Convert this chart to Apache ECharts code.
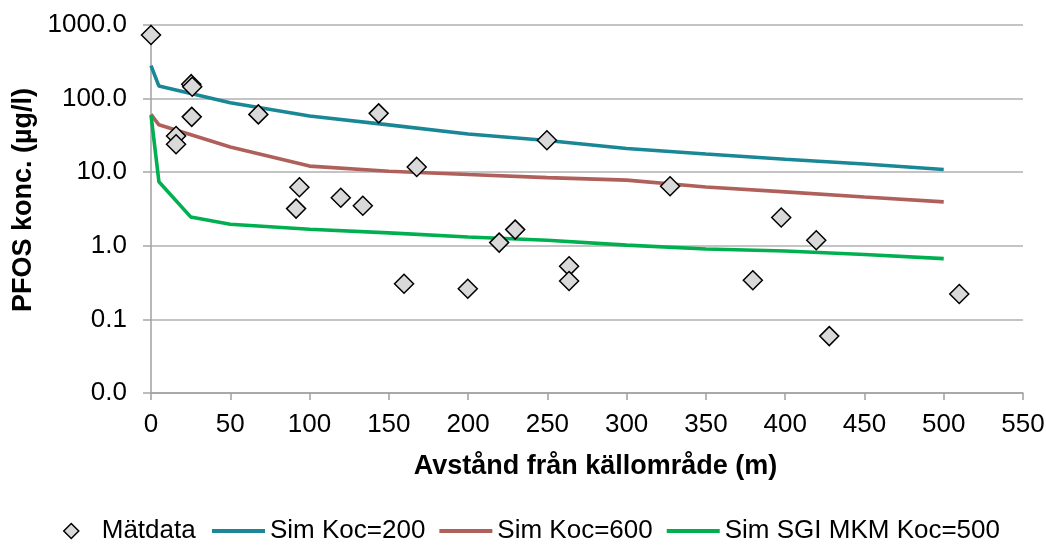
<!DOCTYPE html>
<html>
<head>
<meta charset="utf-8">
<script src="https://cdn.jsdelivr.net/npm/echarts@6/dist/echarts.min.js"></script>
<style>
html,body{margin:0;padding:0;background:#fff;}
#chart{width:1046px;height:545px;}
</style>
</head>
<body>
<div id="chart"></div>
<script>
// Measured data (Mätdata)
const measX = [0, 25.4, 26, 25.7, 15.8, 15.8, 67.7, 143.6, 167.6, 93.6, 91.5, 119.7, 133.6, 159.6, 249.7, 327.4, 219.6, 229.7, 263.7, 263.7, 199.8, 397.5, 419.6, 379.6, 427.8, 509.8];
const measY = [730, 157, 145, 56.5, 31, 24, 61, 63, 11.8, 6.25, 3.2, 4.5, 3.5, 0.305, 27.2, 6.45, 1.105, 1.66, 0.526, 0.332, 0.261, 2.42, 1.19, 0.34, 0.0593, 0.221];

// Simulations
const simX   = [0, 5, 50, 100, 150, 200, 250, 300, 350, 400, 450, 500];
const koc200 = [280, 148, 88, 58, 44, 33, 27, 21, 17.7, 15, 12.9, 10.9];
const koc600 = [61, 44, 22, 12.1, 10.3, 9.3, 8.45, 7.8, 6.3, 5.4, 4.6, 3.95];
const sgiX   = [0, 5, 25, 50, 100, 150, 200, 250, 300, 350, 400, 450, 500];
const sgi500 = [60, 7.4, 2.47, 1.96, 1.68, 1.5, 1.32, 1.19, 1.02, 0.905, 0.85, 0.76, 0.67];

const seriesNames = ['Mätdata', 'Sim Koc=200', 'Sim Koc=600', 'Sim SGI MKM Koc=500'];
const xTitle = 'Avstånd från källområde (m)';
const yTitle = 'PFOS konc. (µg/l)';

const zip = (xs, ys) => xs.map((x, i) => [x, ys[i]]);
const FONT = "'Liberation Sans', Arial, sans-serif";
const chart = echarts.init(document.getElementById('chart'), null, {renderer: 'canvas'});

chart.setOption({
  animation: false,
  backgroundColor: '#fff',
  textStyle: {fontFamily: FONT},
  grid: {left: 151, right: 23, top: 25, bottom: 152, containLabel: false, outerBoundsMode: 'none'},
  legend: [
    {
      data: [{name: seriesNames[0], icon: 'diamond'}],
      left: 63, top: 518, padding: 0,
      itemWidth: 15, itemHeight: 15,
      itemStyle: {color: '#d9d9d9', borderColor: '#000', borderWidth: 1.5},
      textStyle: {fontSize: 26, color: '#000', fontFamily: FONT, padding: [0, 0, 0, 18]}
    },
    {
      data: seriesNames.slice(1).map(n => ({name: n, icon: 'rect'})),
      left: 212, top: 518, padding: 0,
      itemWidth: 53, itemHeight: 4, itemGap: 14,
      textStyle: {fontSize: 26, color: '#000', fontFamily: FONT}
    }
  ],
  xAxis: {
    type: 'value', min: 0, max: 550, interval: 50,
    name: xTitle, nameLocation: 'middle', nameGap: 60,
    nameTextStyle: {fontSize: 27, fontWeight: 'bold', color: '#000', fontFamily: FONT, padding: [0, 0, 0, 17]},
    axisLine: {show: true, lineStyle: {color: '#a0a0a0', width: 1.5}},
    axisTick: {show: true, inside: false, length: 7, lineStyle: {color: '#a0a0a0', width: 1.5}},
    axisLabel: {fontSize: 26, color: '#000', margin: 19, fontFamily: FONT},
    splitLine: {show: false}
  },
  yAxis: {
    type: 'log', logBase: 10, min: 0.01, max: 1000, splitNumber: 5,
    name: yTitle, nameLocation: 'middle', nameGap: 113, nameRotate: 90,
    nameTextStyle: {fontSize: 27, fontWeight: 'bold', color: '#000', fontFamily: FONT, padding: [0, 0, 0, 18]},
    axisLine: {show: true, lineStyle: {color: '#a0a0a0', width: 1.5}},
    axisTick: {show: true, inside: false, length: 8, lineStyle: {color: '#a6a6a6', width: 1.5}},
    axisLabel: {fontSize: 26, color: '#000', margin: 24, fontFamily: FONT, padding: [4, 0, 0, 0],
      formatter: v => Number(v).toFixed(1)},
    splitLine: {show: true, lineStyle: {color: '#b0b0b0', width: 1.5}}
  },
  series: [
    {
      name: seriesNames[1], type: 'line', data: zip(simX, koc200),
      symbol: 'none', smooth: false,
      lineStyle: {color: '#1a8796', width: 3.6}, itemStyle: {color: '#1a8796'}, z: 2
    },
    {
      name: seriesNames[2], type: 'line', data: zip(simX, koc600),
      symbol: 'none', smooth: false,
      lineStyle: {color: '#b0605a', width: 3.6}, itemStyle: {color: '#b0605a'}, z: 2
    },
    {
      name: seriesNames[3], type: 'line', data: zip(sgiX, sgi500),
      symbol: 'none', smooth: false,
      lineStyle: {color: '#00b050', width: 3.6}, itemStyle: {color: '#00b050'}, z: 2
    },
    {
      name: seriesNames[0], type: 'scatter', data: zip(measX, measY),
      symbol: 'diamond', symbolSize: 19,
      itemStyle: {color: '#d9d9d9', borderColor: '#000', borderWidth: 1.5, opacity: 1}, z: 5
    }
  ]
});
</script>
</body>
</html>
